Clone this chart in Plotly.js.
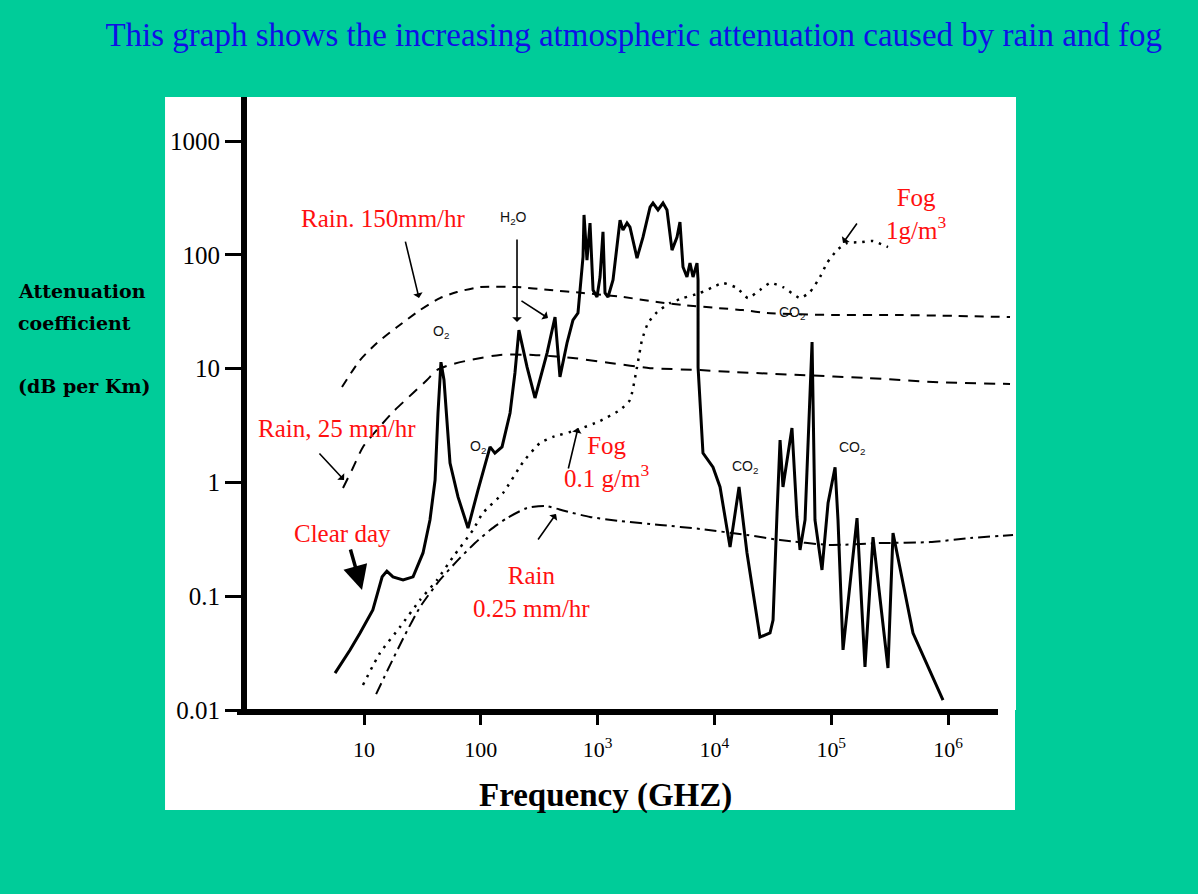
<!DOCTYPE html>
<html>
<head>
<meta charset="utf-8">
<script src="https://cdn.plot.ly/plotly-3.0.1.min.js"></script>
<style>html,body{margin:0;padding:0;background:#00CC99;}#chart{width:1198px;height:894px;}</style>
</head>
<body>
<div id="chart"></div>
<script>
// ---- Data (frequency in GHz, attenuation in dB/km) ----
const clearFreq = [5.65,7.59,9.25,11.9,14.3,15.7,17.7,21.6,26.3,32.0,36.7,40.6,43.0,45.6,48.4,54.5,63.8,77.7,94.6,120,132,152,178,196,212,249,291,369,432,476,547,615,679,706,750,765,811,861,914,988,1049,1112,1157,1228,1355,1556,1649,1786,1893,2174,2447,2812,2979,3289,3631,3927,4335,4786,5070,5383,5821,6180,6561,7096,7244,7244,7834,7980,9727,11170,13610,16250,19010,24550,29920,31770,34360,36480,38640,46130,50930,54080,59700,68550,72610,83370,93970,107900,114300,126200,166300,194600,228000,306200,338100,501200,905700];
const clearAtt = [0.0211,0.0337,0.0475,0.0757,0.148,0.166,0.148,0.139,0.148,0.240,0.468,1.05,4.07,11.4,7.94,1.48,0.745,0.397,0.857,2.05,1.81,2.05,4.07,9.15,21.8,10.3,5.52,13.7,28.4,8.44,16.8,26.7,30.8,49.1,95.7,224,90.0,190,49.1,42.6,63.8,159,46.2,42.6,60.1,202,165,190,175,93.7,143,263,285,248,285,248,110,143,194,78.2,63.8,84.7,63.8,84.7,60.1,10.3,2.36,1.81,1.36,0.912,0.270,0.912,0.240,0.0437,0.0475,0.0618,0.538,2.36,0.912,3.01,0.497,0.255,0.468,17.1,0.468,0.170,0.659,1.36,0.468,0.0337,0.486,0.0239,0.331,0.0234,0.359,0.0475,0.0122];

const rain150Freq = [6.48,9.25,12.9,19.2,30.2,44.7,62.5,98.5,204,391,750,1649,3228,5383,10520,17580,28180,103500,388200,3396000];
const rain150Att  = [6.89,11.9,16.8,23.2,32.7,41.7,47.1,52.1,52.1,49.1,46.2,42.6,38.5,36.2,34.1,32.7,30.8,29.6,29.6,28.4];

const rain25Freq = [6.61,7.89,9.80,12.9,17.7,26.3,34.6,42.2,54.5,80.8,146,280,615,1277,2812,7534,14430,54080,202600,744000,3396000];
const rain25Att  = [0.893,1.29,2.05,2.89,4.16,6.11,7.94,9.72,10.8,11.9,13.2,13.2,12.4,11.2,10.1,9.72,9.33,8.79,8.27,7.63,7.33];

const rain025Freq = [12.7,16.7,22.4,30.2,44.7,66.4,89.2,120,168,249,355,526,861,1556,3420,7534,19010,36480,97700,261800,701500,1542000,3603000];
const rain025Att  = [0.0138,0.0248,0.0456,0.0803,0.139,0.217,0.293,0.382,0.486,0.596,0.621,0.561,0.497,0.458,0.423,0.390,0.345,0.312,0.282,0.293,0.299,0.324,0.345];

const fogFreq = [9.80,13.7,20.3,30.2,42.2,57.8,85.7,104,155,230,321,415,666,1049,1556,1893,2174,2399,2702,3228,4168,5383,7534,9727,11850,15610,19410,24550,29920,38640,54080,65770,80170,92040,112200,136500,176400,228000,306200];
const fogAtt  = [0.0166,0.0317,0.0535,0.0927,0.139,0.221,0.382,0.538,0.807,1.51,2.22,2.51,2.89,3.47,4.33,5.30,10.3,17.8,25.2,31.4,37.7,41.7,46.2,52.1,56.5,51.1,41.7,49.1,56.5,52.1,41.7,47.1,63.8,84.7,110,127,129,132,117];

const xTickVals = [10,100,1000,10000,100000,1000000];
const xTickText = ["10","100","10<sup>3</sup>","10<sup>4</sup>","10<sup>5</sup>","10<sup>6</sup>"];
const yTickVals = [0.01,0.1,1,10,100,1000];
const yTickText = ["0.01","0.1","1","10","100","1000"];

const SERIF = "Liberation Serif, Times New Roman, serif";
const RED = "#ff1010";

const traces = [
  {name:"Clear day", x:clearFreq, y:clearAtt, mode:"lines", line:{color:"#000", width:3}},
  {name:"Rain, 150 mm/hr", x:rain150Freq, y:rain150Att, mode:"lines", line:{color:"#000", width:2, dash:"9px,7px", shape:"spline", smoothing:0.6}},
  {name:"Rain, 25 mm/hr", x:rain25Freq, y:rain25Att, mode:"lines", line:{color:"#000", width:2, dash:"11px,8px", shape:"spline", smoothing:0.6}},
  {name:"Rain, 0.25 mm/hr", x:rain025Freq, y:rain025Att, mode:"lines", line:{color:"#000", width:2, dash:"12px,5px,3px,5px", shape:"spline", smoothing:0.6}},
  {name:"Fog", x:fogFreq, y:fogAtt, mode:"lines", line:{color:"#000", width:2.5, dash:"2.5px,6px", shape:"spline", smoothing:0.5}}
];

function chem(text, lx, ly){
  return {text:text, x:lx, y:ly, xref:"x", yref:"y", showarrow:false,
          font:{family:"Liberation Sans, Arial, sans-serif", size:14, color:"#111"}};
}
function redLabel(text, lx, ly, size){
  return {text:text, x:lx, y:ly, xref:"x", yref:"y", showarrow:false,
          font:{family:SERIF, size:size||25, color:RED}};
}
function arrow(lx, ly, ax, ay, w, head, sz){
  return {text:"", x:lx, y:ly, xref:"x", yref:"y", ax:ax, ay:ay, showarrow:true,
          arrowhead:head||1, arrowsize:sz||1, arrowwidth:w||1.6, arrowcolor:"#000"};
}
function yTitle(text, py){
  return {text:"<b>"+text+"</b>", xref:"paper", yref:"paper", x:-0.3003, y:py, xanchor:"left", yanchor:"middle",
          showarrow:false, font:{family:"DejaVu Serif, serif", size:19, color:"#000"}};
}

const annotations = [
  redLabel("Rain. 150mm/hr", 1.163, 2.323),
  arrow(1.471, 1.620, -14, -58),
  redLabel("Rain, 25 mm/hr", 0.769, 0.478),
  arrow(0.829, 0.021, -26, -28),
  redLabel("Clear day", 0.820, -0.453),
  arrow(0.983, -0.946, -12, -42, 3.5, 2, 1.4),
  redLabel("Fog<br>0.1 g/m<sup>3</sup>", 3.080, 0.179),
  arrow(2.832, 0.478, -10, 42),
  redLabel("Rain<br>0.25 mm/hr", 2.430, -0.963),
  arrow(2.644, -0.278, -19, 27),
  redLabel("Fog<br>1g/m<sup>3</sup>", 5.726, 2.359),
  arrow(5.101, 2.104, 15, -21),
  chem("O<sub>2</sub>", 1.659, 1.322),
  chem("O<sub>2</sub>", 1.976, 0.311),
  chem("H<sub>2</sub>O", 2.276, 2.323),
  arrow(2.310, 1.409, 0, -84),
  arrow(2.575, 1.445, -28, -18),
  chem("CO<sub>2</sub>", 4.664, 1.489),
  chem("CO<sub>2</sub>", 4.262, 0.135),
  chem("CO<sub>2</sub>", 5.178, 0.302),
  // y-axis title (horizontal, left of the panel)
  yTitle("Attenuation", 0.6835),
  yTitle("coefficient", 0.6313),
  yTitle("(dB per Km)", 0.5285),
  // x-axis title
  {text:"<b>Frequency (GHZ)</b>", xref:"paper", yref:"paper", x:0.4668, y:-0.1387, xanchor:"center", yanchor:"middle",
   showarrow:false, font:{family:SERIF, size:33, color:"#000"}}
];

const shapes = [
  // white chart panel
  {type:"rect", xref:"paper", yref:"paper", x0:-0.1066, x1:0.9987, y0:-0.1631, y1:1.0, fillcolor:"#ffffff", line:{width:0}, layer:"below"},
  // x axis line
  {type:"line", xref:"paper", yref:"paper", x0:-0.013, x1:0.9766, y0:-0.0033, y1:-0.0033, line:{color:"#000", width:6}, layer:"above"}
];

const layout = {
  width:1198, height:894,
  paper_bgcolor:"#00CC99", plot_bgcolor:"#ffffff",
  margin:{l:247, r:182, t:97, b:184},
  showlegend:false, hovermode:false,
  title:{text:"This graph shows the increasing atmospheric attenuation caused by rain and fog",
         x:0.529, xanchor:"center", y:0.961, yanchor:"middle", xref:"container", yref:"container",
         font:{family:SERIF, size:33, color:"#1010e6"}},
  xaxis:{type:"log", range:[-0.0017, 6.582], tickvals:xTickVals, ticktext:xTickText,
         ticks:"outside", ticklen:14, tickwidth:3, tickcolor:"#000", showline:false, zeroline:false, showgrid:false,
         ticklabelstandoff:6,
         tickfont:{family:SERIF, size:22, color:"#000"}},
  yaxis:{type:"log", range:[-2, 3.387], tickvals:yTickVals, ticktext:yTickText,
         ticks:"outside", ticklen:16, tickwidth:3, tickcolor:"#000", showline:true, linewidth:6, linecolor:"#000",
         zeroline:false, showgrid:false,
         tickfont:{family:SERIF, size:25, color:"#000"}},
  annotations:annotations,
  shapes:shapes
};

Plotly.newPlot("chart", traces, layout, {staticPlot:true, displayModeBar:false});
</script>
</body>
</html>
